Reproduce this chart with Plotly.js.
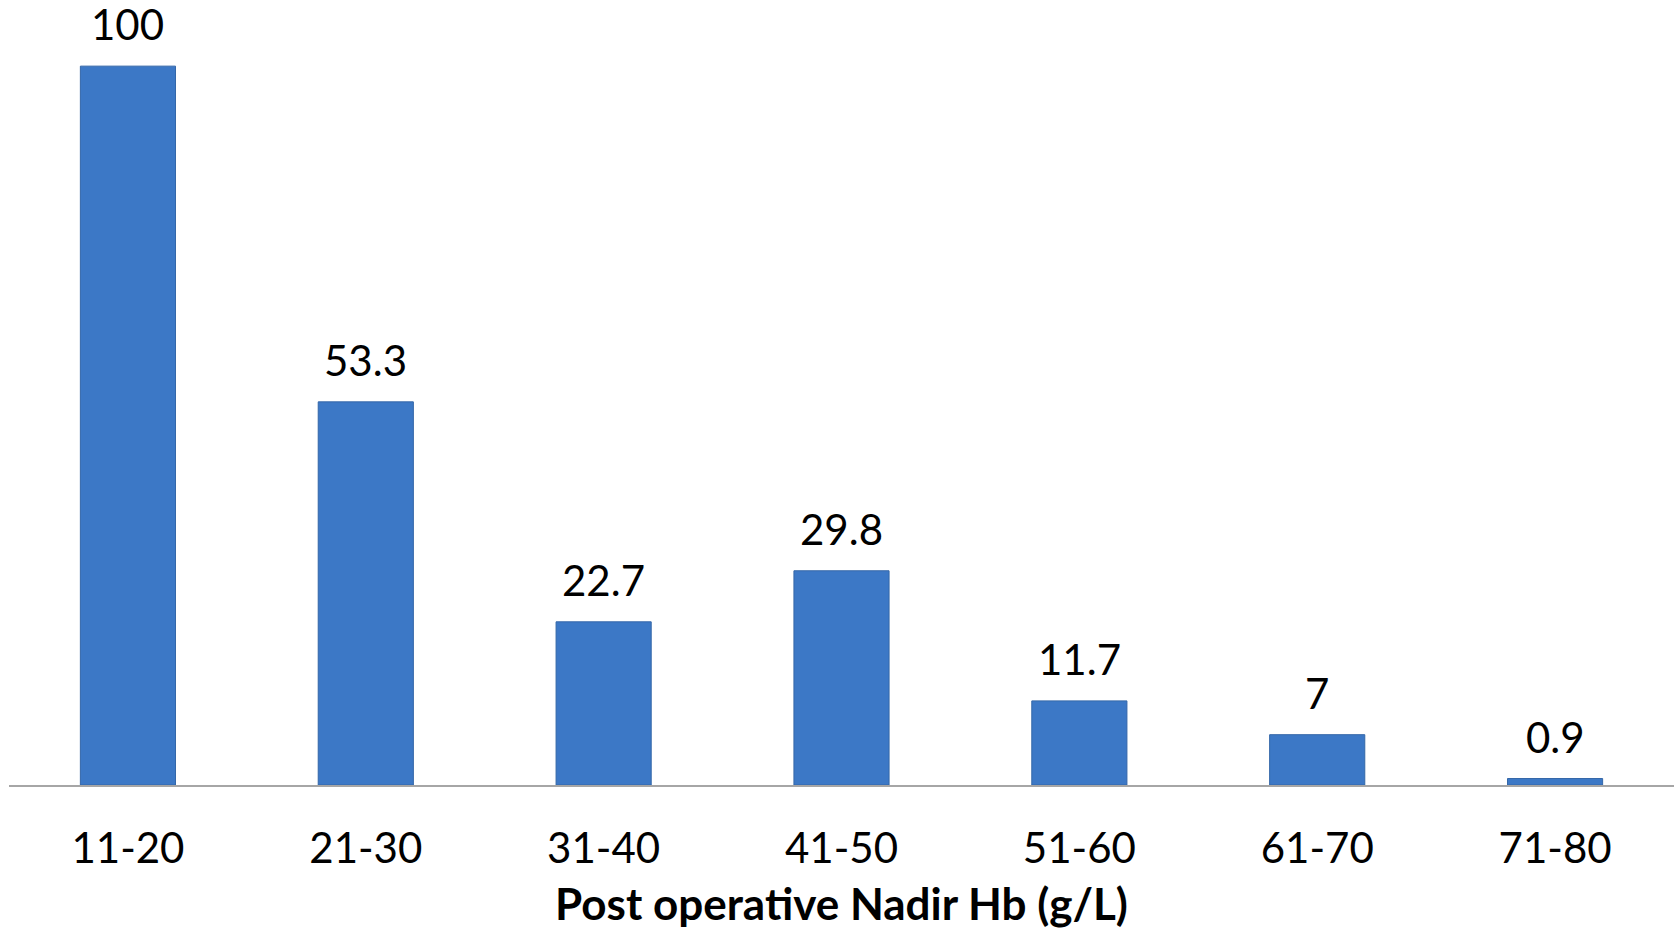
<!DOCTYPE html>
<html>
<head>
<meta charset="utf-8">
<script src="https://cdn.plot.ly/plotly-3.0.1.min.js"></script>
<style>html,body{margin:0;padding:0;background:#fff;}#chart{width:1674px;height:929px;}</style>
</head>
<body>
<div id="chart"></div>
<script>
const categories = ["11-20", "21-30", "31-40", "41-50", "51-60", "61-70", "71-80"];
const values = [100, 53.3, 22.7, 29.8, 11.7, 7, 0.9];
const valueLabels = ["100", "53.3", "22.7", "29.8", "11.7", "7", "0.9"];
const xTitle = "Post operative Nadir Hb (g/L)";

const trace = {
  type: "bar",
  x: categories,
  y: values,
  marker: { color: "#3c78c6", line: { color: "#3467a8", width: 1 } },
  hoverinfo: "skip"
};

const annotations = categories.map((c, i) => ({
  x: c, y: values[i], xref: "x", yref: "y",
  text: valueLabels[i], showarrow: false,
  yanchor: "bottom", yshift: 15,
  font: { family: "Lato, 'Open Sans', sans-serif", size: 42, color: "#000" }
}));

const layout = {
  width: 1674, height: 929,
  margin: { l: 9, r: 0, t: 0, b: 144 },
  paper_bgcolor: "#fff", plot_bgcolor: "#fff",
  bargap: 0.6,
  showlegend: false,
  xaxis: {
    type: "category",
    showline: true, linecolor: "#a6a6a6", linewidth: 2,
    ticks: "outside", ticklen: 26, tickcolor: "rgba(0,0,0,0)",
    tickfont: { family: "Lato, 'Open Sans', sans-serif", size: 42, color: "#000" },
    showgrid: false, zeroline: false,
    title: { text: xTitle, standoff: 19, font: { family: "Lato, 'Open Sans', sans-serif", size: 44, color: "#000", weight: "bold" } }
  },
  yaxis: {
    range: [0, 109.2], visible: false, showgrid: false, zeroline: false
  },
  annotations: annotations
};

Plotly.newPlot("chart", [trace], layout, { displayModeBar: false, staticPlot: true });
</script>
</body>
</html>
